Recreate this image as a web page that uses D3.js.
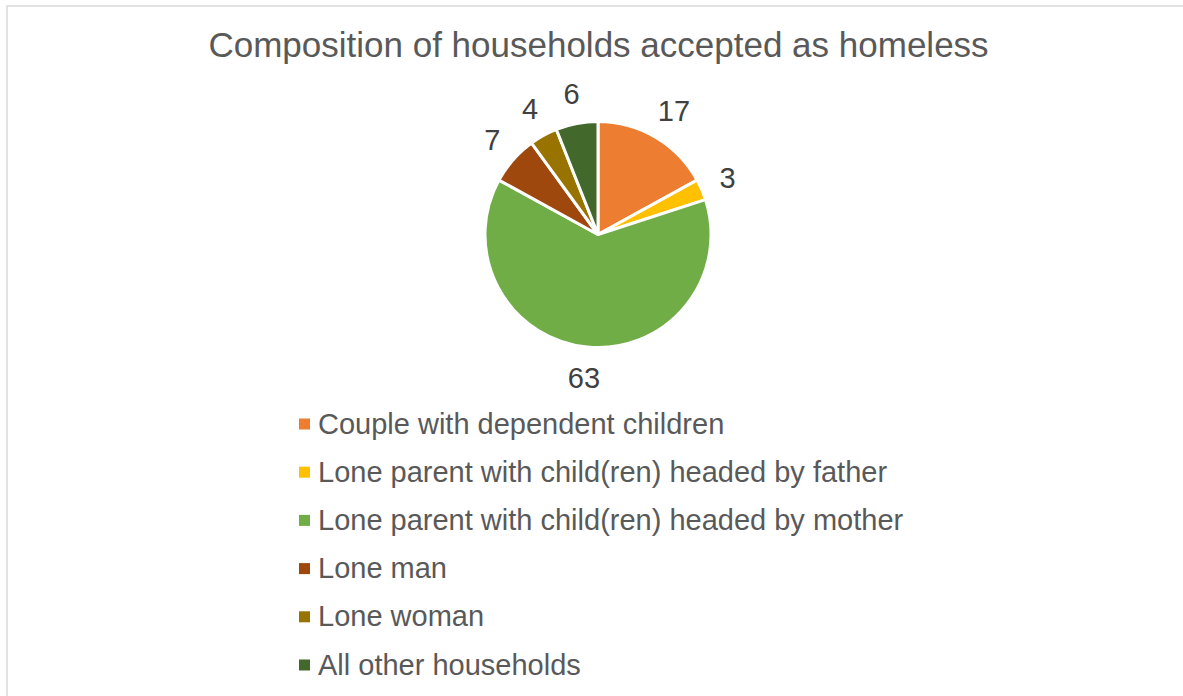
<!DOCTYPE html>
<html><head><meta charset="utf-8">
<script src="https://cdn.jsdelivr.net/npm/d3@7"></script>
<style>body{margin:0;background:#fff;}svg{display:block;font-family:"Liberation Sans",Arial,sans-serif;}</style>
</head><body>
<svg id="c" width="1183" height="696"></svg>
<script>
const categories = ["Couple with dependent children","Lone parent with child(ren) headed by father","Lone parent with child(ren) headed by mother","Lone man","Lone woman","All other households"];
const values = [17,3,63,7,4,6];
const colors = ["#ED7D31","#FFC000","#70AD47","#9E480E","#997300","#43682B"];
const title = "Composition of households accepted as homeless";

const svg = d3.select("#c");
svg.append("rect").attr("x",7).attr("y",6).attr("width",1200).attr("height",720).attr("fill","#fff").attr("stroke","#d9d9d9").attr("stroke-width",1.5);
svg.append("text").attr("x",598.5).attr("y",57).attr("text-anchor","middle").attr("font-size",35).attr("fill","#595959").text(title);

const cx=598, cy=234.5, r=113;
const data = categories.map((c,i)=>({c,v:values[i],col:colors[i]}));
const pie = d3.pie().value(d=>d.v).sort(null);
const arcs = pie(data);
const arc = d3.arc().innerRadius(0).outerRadius(r);
const g = svg.append("g").attr("transform",`translate(${cx},${cy})`);
g.selectAll("path").data(arcs).join("path").attr("d",arc).attr("fill",d=>d.data.col).attr("stroke","#fff").attr("stroke-width",3).attr("stroke-linejoin","round");

// outside-end labels: box pushed outward from the edge along the mid-angle
const R = r + 20;
const labels = g.selectAll("text").data(arcs).join("text")
 .attr("font-size",29).attr("fill","#404040").attr("text-anchor","middle").text(d=>d.data.v);
labels.each(function(d){
  const bb = this.getBBox();
  const a = (d.startAngle+d.endAngle)/2;
  const s = Math.sin(a), c = Math.cos(a);
  const h = 21;
  const x = R*s + s*bb.width/2;
  const y = -R*c - c*h/2;
  d3.select(this).attr("x",x).attr("y",y + h/2);
});

const lg = svg.append("g");
const ys = d3.scalePoint().domain(categories).range([424,665]);
categories.forEach((c,i)=>{
  lg.append("rect").attr("x",299).attr("y",ys(c)-5.5).attr("width",11).attr("height",11).attr("fill",colors[i]);
  lg.append("text").attr("x",318).attr("y",ys(c)+9.5).attr("font-size",29).attr("fill","#595959").text(c);
});
</script></body></html>
